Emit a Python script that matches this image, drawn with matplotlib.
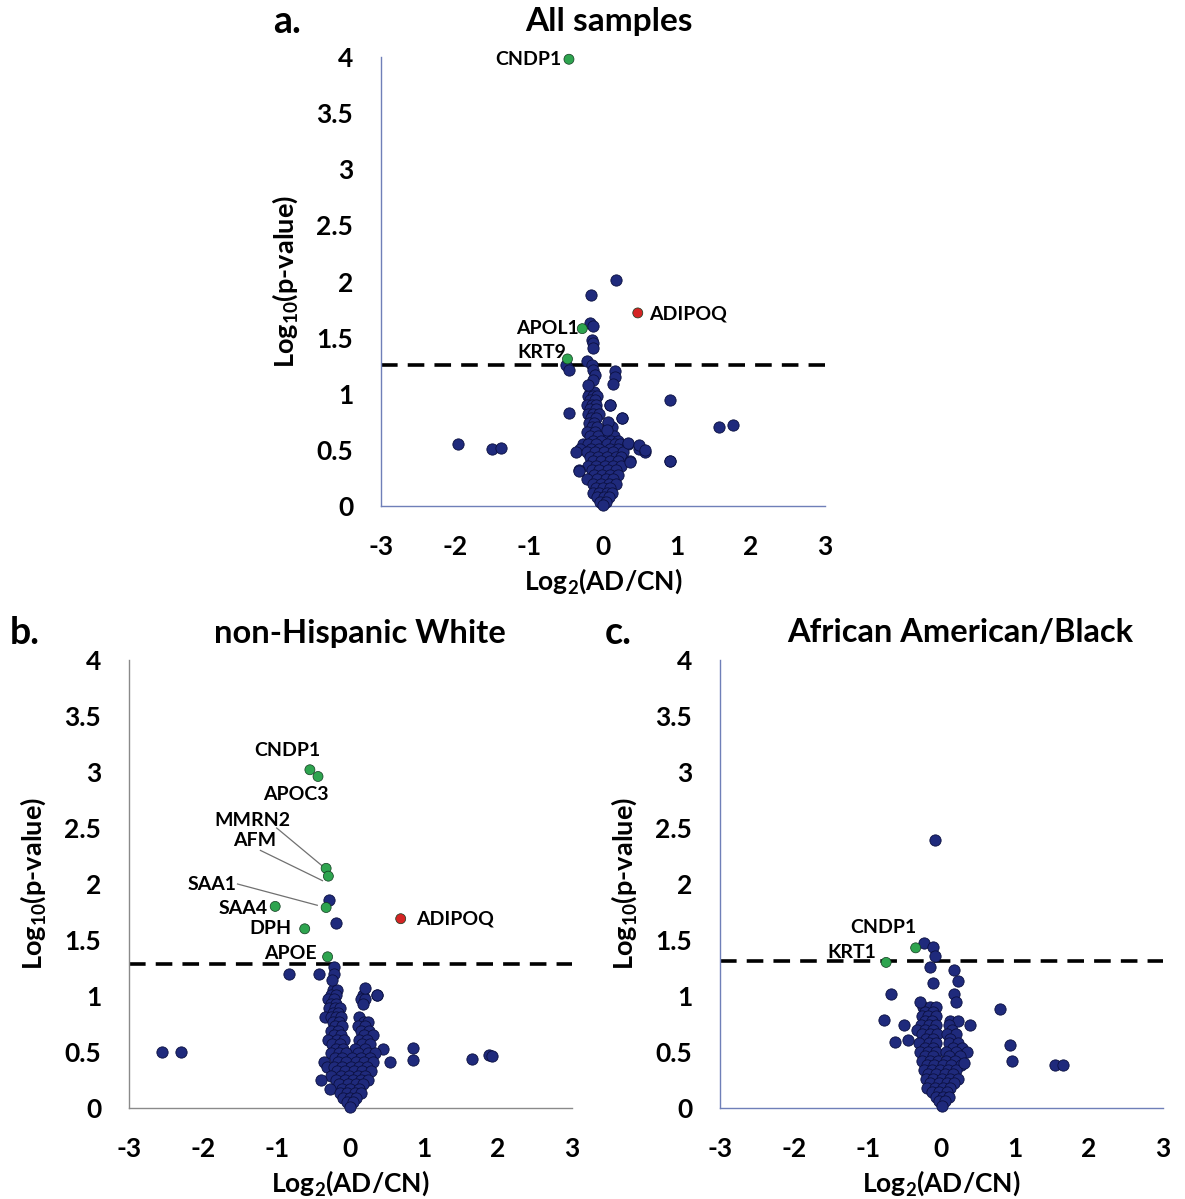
import numpy as np
import matplotlib
matplotlib.use("Agg")
import matplotlib.pyplot as plt

plt.rcParams['font.family'] = ['Lato', 'DejaVu Sans']
plt.rcParams['font.weight'] = 'bold'
plt.rcParams['axes.unicode_minus'] = False
plt.rcParams['mathtext.fontset'] = 'custom'
plt.rcParams['mathtext.rm'] = 'Lato:bold'
plt.rcParams['mathtext.bf'] = 'Lato:bold'
plt.rcParams['mathtext.default'] = 'bf'

# ---------------- panel a : all samples ----------------
a_rows_y = [1.02, 0.98, 0.94, 0.90, 0.86, 0.82, 0.78, 0.74, 0.70, 0.66, 0.62, 0.58, 0.55,
            0.51, 0.48, 0.44, 0.40, 0.36, 0.32, 0.28, 0.24, 0.20, 0.16, 0.12, 0.08, 0.04, 0.01]
a_rows_x = [[-0.17, -0.12], [-0.2, -0.13, -0.08], [-0.18, -0.11], [-0.21, -0.15, -0.09, 0.09],
            [-0.17, -0.1], [-0.2, -0.13, -0.06], [-0.16, -0.09, 0.26], [-0.19, -0.12, 0.07],
            [-0.15, -0.08, 0.12], [-0.22, -0.11, 0.05], [-0.18, -0.07, 0.08, 0.15],
            [-0.14, -0.03, 0.11, 0.2], [-0.27, -0.2, -0.1, 0.05, 0.16, 0.23, 0.34],
            [-0.31, -0.16, -0.06, 0.09, 0.2, 0.49], [-0.36, -0.22, -0.11, 0.02, 0.14, 0.27, 0.57],
            [-0.18, -0.07, 0.06, 0.18, 0.24], [-0.14, -0.03, 0.1, 0.2, 0.36, 0.9],
            [-0.2, -0.09, 0.03, 0.14, 0.24], [-0.32, -0.15, -0.05, 0.07, 0.17],
            [-0.12, -0.01, 0.1, 0.2], [-0.21, -0.08, 0.04, 0.14], [-0.13, -0.03, 0.08, 0.17],
            [-0.1, 0.0, 0.1], [-0.13, -0.05, 0.05, 0.12], [-0.08, 0.02, 0.08], [-0.04, 0.04], [0.0]]
a_out_x = [0.18, -0.16, -0.17, -0.14, -0.15, -0.13, -0.13, -0.50, -0.46, -0.22, -0.15, -0.13,
           -0.11, -0.13, -0.20, 0.16, 0.16, 0.14, 0.90, -0.46, 0.09, 0.26, 0.07, 0.05, 1.57,
           1.75, -1.96, -1.50, -1.38, -0.32, 0.34, 0.49, 0.57, 0.90, 0.36]
a_out_y = [2.01, 1.88, 1.63, 1.60, 1.48, 1.45, 1.41, 1.26, 1.21, 1.29, 1.26, 1.21,
           1.17, 1.12, 1.08, 1.20, 1.15, 1.09, 0.94, 0.83, 0.90, 0.78, 0.75, 0.68, 0.70,
           0.72, 0.55, 0.51, 0.52, 0.31, 0.56, 0.54, 0.50, 0.40, 0.39]
a_sig_names = ['CNDP1', 'APOL1', 'KRT9', 'ADIPOQ']
a_sig_x = [-0.46, -0.28, -0.48, 0.47]
a_sig_y = [3.98, 1.58, 1.31, 1.72]
a_sig_up = [False, False, False, True]
a_cut = 1.26

# ---------------- panel b : non-Hispanic White ----------------
b_rows_y = [1.05, 1.01, 0.97, 0.93, 0.89, 0.85, 0.81, 0.77, 0.73, 0.69, 0.65, 0.61, 0.57, 0.53,
            0.49, 0.45, 0.41, 0.37, 0.33, 0.29, 0.25, 0.21, 0.17, 0.13, 0.09, 0.05, 0.01]
b_rows_x = [[-0.24, -0.18], [-0.27, -0.2, 0.17, 0.36], [-0.3, -0.22, 0.14, 0.2],
            [-0.26, -0.19, 0.17], [-0.29, -0.21, -0.14], [-0.24, -0.17],
            [-0.34, -0.27, -0.2, -0.13, 0.12], [-0.24, -0.16, 0.18, 0.24],
            [-0.21, -0.12, 0.1, 0.2], [-0.26, -0.17, 0.14, 0.25], [-0.22, -0.13, 0.18, 0.3],
            [-0.3, -0.18, -0.09, 0.12, 0.22], [-0.25, -0.14, 0.16, 0.27],
            [-0.2, -0.1, 0.06, 0.2, 0.44], [-0.27, -0.16, -0.06, 0.1, 0.24, 0.33],
            [-0.21, -0.11, 0.02, 0.14, 0.26], [-0.36, -0.17, -0.06, 0.07, 0.18, 0.3, 0.54],
            [-0.32, -0.22, -0.12, 0.01, 0.12, 0.22], [-0.18, -0.07, 0.05, 0.16, 0.28],
            [-0.26, -0.13, -0.02, 0.1, 0.2], [-0.4, -0.2, -0.08, 0.04, 0.14, 0.24],
            [-0.15, -0.04, 0.07, 0.17], [-0.28, -0.11, 0.0, 0.11], [-0.14, -0.05, 0.06, 0.14],
            [-0.1, 0.0, 0.08], [-0.05, 0.04], [0.0]]
b_out_x = [-0.29, -0.19, -0.23, -0.23, -0.25, -0.83, -0.42, -2.55, -2.29, 0.84, 0.84,
           1.65, 1.87, 1.91, 0.36, 0.20]
b_out_y = [1.86, 1.65, 1.26, 1.20, 1.14, 1.20, 1.20, 0.50, 0.50, 0.54, 0.43,
           0.44, 0.47, 0.46, 1.01, 1.07]
b_sig_names = ['CNDP1', 'APOC3', 'MMRN2', 'AFM', 'SAA1', 'SAA4', 'DPH', 'APOE', 'ADIPOQ']
b_sig_x = [-0.55, -0.44, -0.33, -0.30, -0.33, -1.02, -0.62, -0.31, 0.68]
b_sig_y = [3.02, 2.96, 2.14, 2.07, 1.79, 1.80, 1.60, 1.35, 1.69]
b_sig_up = [False, False, False, False, False, False, False, False, True]
b_cut = 1.29

# ---------------- panel c : African American/Black ----------------
c_rows_y = [0.90, 0.86, 0.82, 0.78, 0.74, 0.70, 0.66, 0.62, 0.58, 0.54, 0.50, 0.46, 0.42,
            0.38, 0.34, 0.30, 0.26, 0.22, 0.18, 0.14, 0.10, 0.06, 0.02]
c_rows_x = [[-0.25, -0.15, -0.07], [-0.22, -0.12], [-0.27, -0.18, -0.08],
            [-0.23, -0.13, 0.12, 0.23], [-0.28, -0.17, -0.08, 0.1, 0.39],
            [-0.33, -0.22, -0.12, 0.14], [-0.26, -0.16, -0.06, 0.08, 0.2], [-0.21, -0.11, 0.12],
            [-0.3, -0.17, -0.07, 0.1, 0.22], [-0.23, -0.12, 0.15, 0.28],
            [-0.29, -0.18, -0.08, 0.06, 0.2, 0.35], [-0.22, -0.12, 0.1, 0.25],
            [-0.27, -0.16, -0.05, 0.06, 0.18], [-0.2, -0.1, 0.02, 0.13, 0.27],
            [-0.24, -0.13, -0.02, 0.09, 0.2], [-0.18, -0.07, 0.05, 0.16],
            [-0.21, -0.11, 0.0, 0.11, 0.22], [-0.15, -0.04, 0.07, 0.17],
            [-0.19, -0.09, 0.02, 0.12], [-0.13, -0.03, 0.07], [-0.08, 0.02, 0.1],
            [-0.04, 0.05], [0.0]]
c_out_x = [-0.09, -0.24, -0.11, -0.09, -0.16, 0.17, 0.23, 0.17, 0.19, -0.11, -0.68, 0.79,
           -0.78, -0.51, -0.63, -0.46, 0.93, 0.96, 1.54, 1.64, -0.29, 0.31]
c_out_y = [2.39, 1.47, 1.44, 1.36, 1.26, 1.23, 1.13, 1.02, 0.95, 1.12, 1.02, 0.88,
           0.79, 0.74, 0.59, 0.61, 0.56, 0.42, 0.38, 0.38, 0.95, 0.40]
c_sig_names = ['CNDP1', 'KRT1']
c_sig_x = [-0.35, -0.75]
c_sig_y = [1.43, 1.30]
c_sig_up = [False, False]
c_cut = 1.31

NAVY = '#1f2a7c'
GREEN = '#2ea44f'
RED = '#d42424'


def flatten(rows_y, rows_x):
    xs, ys = [], []
    for y, row in zip(rows_y, rows_x):
        for x in row:
            xs.append(x)
            ys.append(y)
    return xs, ys


def volcano(ax, rows_y, rows_x, out_x, out_y, sig_x, sig_y, sig_up, cut, spine_col):
    cx, cy = flatten(rows_y, rows_x)
    x = np.array(cx + out_x)
    y = np.array(cy + out_y)
    ax.axhline(cut, color='black', lw=2.6, dashes=(4.6, 2.8), zorder=1)
    ax.scatter(x, y, s=66, c=NAVY, edgecolors='#0b1040', linewidths=0.6, zorder=3, clip_on=False)
    cols = [RED if u else GREEN for u in sig_up]
    ax.scatter(sig_x, sig_y, s=52, c=cols, edgecolors='#103a1e', linewidths=0.5, zorder=4,
               clip_on=False)
    ax.set_xlim(-3, 3)
    ax.set_ylim(0, 4)
    ax.set_xticks([-3, -2, -1, 0, 1, 2, 3])
    ax.set_yticks([0, 0.5, 1, 1.5, 2, 2.5, 3, 3.5, 4])
    ax.set_yticklabels(['0', '0.5', '1', '1.5', '2', '2.5', '3', '3.5', '4'])
    ax.tick_params(length=0, labelsize=19, pad=20)
    ax.tick_params(axis='x', pad=21)
    for s in ['top', 'right']:
        ax.spines[s].set_visible(False)
    for s in ['left', 'bottom']:
        ax.spines[s].set_color(spine_col)
        ax.spines[s].set_linewidth(1.0)
    ax.set_xlabel('Log$_{2}$(AD/CN)', fontsize=19, fontweight='bold', labelpad=5)
    ax.set_ylabel('Log$_{10}$(p-value)', fontsize=19.5, fontweight='bold', labelpad=12)


fig = plt.figure(figsize=(11.85, 11.99), dpi=100)
W, H = 1185, 1199
ax_a = fig.add_axes([381 / W, 1 - 506 / H, 444 / W, 449 / H])
ax_b = fig.add_axes([129 / W, 1 - 1108 / H, 443 / W, 448 / H])
ax_c = fig.add_axes([720 / W, 1 - 1108 / H, 443 / W, 448 / H])

volcano(ax_a, a_rows_y, a_rows_x, a_out_x, a_out_y, a_sig_x, a_sig_y, a_sig_up, a_cut, '#6f7fb8')
volcano(ax_b, b_rows_y, b_rows_x, b_out_x, b_out_y, b_sig_x, b_sig_y, b_sig_up, b_cut, '#8a8a8a')
volcano(ax_c, c_rows_y, c_rows_x, c_out_x, c_out_y, c_sig_x, c_sig_y, c_sig_up, c_cut, '#6f7fb8')

# point labels
lab = dict(fontsize=14, fontweight='bold', va='center')
ax_a.text(a_sig_x[0] - 0.1, a_sig_y[0], a_sig_names[0], ha='right', **lab)
ax_a.text(a_sig_x[1] - 0.05, a_sig_y[1], a_sig_names[1], ha='right', **lab)
ax_a.text(a_sig_x[2] - 0.02, a_sig_y[2] + 0.06, a_sig_names[2], ha='right', **lab)
ax_a.text(a_sig_x[3] + 0.15, a_sig_y[3] - 0.01, a_sig_names[3], ha='left', **lab)

ax_b.text(-0.86, 3.19, 'CNDP1', ha='center', **lab)
ax_b.text(-0.74, 2.80, 'APOC3', ha='center', **lab)
ax_b.text(-1.33, 2.57, 'MMRN2', ha='center', **lab)
ax_b.text(-1.30, 2.39, 'AFM', ha='center', **lab)
ax_b.text(-1.87, 2.00, 'SAA1', ha='center', **lab)
ax_b.text(-1.46, 1.78, 'SAA4', ha='center', **lab)
ax_b.text(-1.08, 1.60, 'DPH', ha='center', **lab)
ax_b.text(-0.81, 1.38, 'APOE', ha='center', **lab)
ax_b.text(0.89, 1.69, 'ADIPOQ', ha='left', **lab)
ax_b.plot([-1.0, -0.38], [2.50, 2.16], color='#707070', lw=0.9, zorder=2)
ax_b.plot([-1.22, -0.38], [2.30, 2.03], color='#707070', lw=0.9, zorder=2)
ax_b.plot([-1.53, -0.45], [2.00, 1.81], color='#707070', lw=0.9, zorder=2)

ax_c.text(-0.79, 1.61, 'CNDP1', ha='center', **lab)
ax_c.text(-1.21, 1.39, 'KRT1', ha='center', **lab)

# titles and panel letters
fig.text(609 / W, 1 - 22 / H, 'All samples', ha='center', va='center', fontsize=24, fontweight='bold')
fig.text(287 / W, 1 - 22 / H, 'a.', ha='center', va='center', fontsize=27, fontweight='bold')
fig.text(360 / W, 1 - 633 / H, 'non-Hispanic White', ha='center', va='center', fontsize=23.5,
         fontweight='bold')
fig.text(25 / W, 1 - 633 / H, 'b.', ha='center', va='center', fontsize=27, fontweight='bold')
fig.text(960 / W, 1 - 633 / H, 'African American/Black', ha='center', va='center', fontsize=23.5,
         fontweight='bold')
fig.text(618 / W, 1 - 633 / H, 'c.', ha='center', va='center', fontsize=27, fontweight='bold')

fig.savefig('out.png', dpi=100)
